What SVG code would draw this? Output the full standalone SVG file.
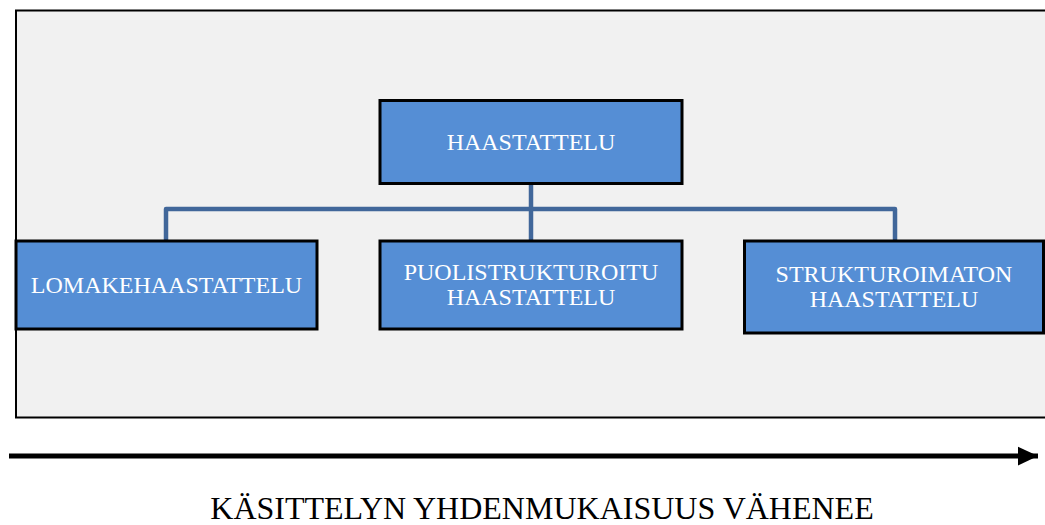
<svg xmlns="http://www.w3.org/2000/svg" width="1045" height="525" viewBox="0 0 1045 525">
<style>
.node{fill:#558ED5;stroke:#000;stroke-width:3}
.lbl{font-family:"Liberation Serif","Times New Roman",serif;font-size:24px;fill:#fff;text-anchor:middle}
.conn{fill:none;stroke:#41679A;stroke-width:4.5;stroke-linejoin:round}
.cap{font-family:"Liberation Serif","Times New Roman",serif;font-size:32px;fill:#000;text-anchor:middle}
</style>
<defs>
<marker id="ah" markerWidth="4" markerHeight="4" refX="3.2" refY="1.5" orient="auto" markerUnits="strokeWidth" viewBox="0 0 3.2 3">
<path d="M0,0 L3.2,1.5 L0,3 Z" fill="#000"/>
</marker>
</defs>
<rect width="1045" height="525" fill="#fff"/>
<rect id="frame" x="16" y="10.5" width="1040" height="407" fill="#F1F1F1" stroke="#000" stroke-width="2"/>
<g id="connectors">
<path class="conn" d="M531,183 V240"/>
<path class="conn" d="M166,240 V209 H895 V240"/>
</g>
<g id="n-haastattelu">
<rect class="node" x="380" y="100.5" width="302" height="83"/>
<text class="lbl" x="531" y="150">HAASTATTELU</text>
</g>
<g id="n-lomake">
<rect class="node" x="16" y="241" width="301" height="88"/>
<text class="lbl" x="166.5" y="293">LOMAKEHAASTATTELU</text>
</g>
<g id="n-puoli">
<rect class="node" x="380" y="241" width="302" height="88"/>
<text class="lbl" x="531" y="280">PUOLISTRUKTUROITU</text>
<text class="lbl" x="531" y="305">HAASTATTELU</text>
</g>
<g id="n-struktu">
<rect class="node" x="744.5" y="241" width="299" height="92"/>
<text class="lbl" x="894" y="282">STRUKTUROIMATON</text>
<text class="lbl" x="894" y="307">HAASTATTELU</text>
</g>
<g id="arrow">
<line x1="9" y1="456" x2="1038" y2="456" stroke="#000" stroke-width="5" marker-end="url(#ah)"/>
</g>
<text class="cap" x="542" y="519">KÄSITTELYN YHDENMUKAISUUS VÄHENEE</text>
</svg>
